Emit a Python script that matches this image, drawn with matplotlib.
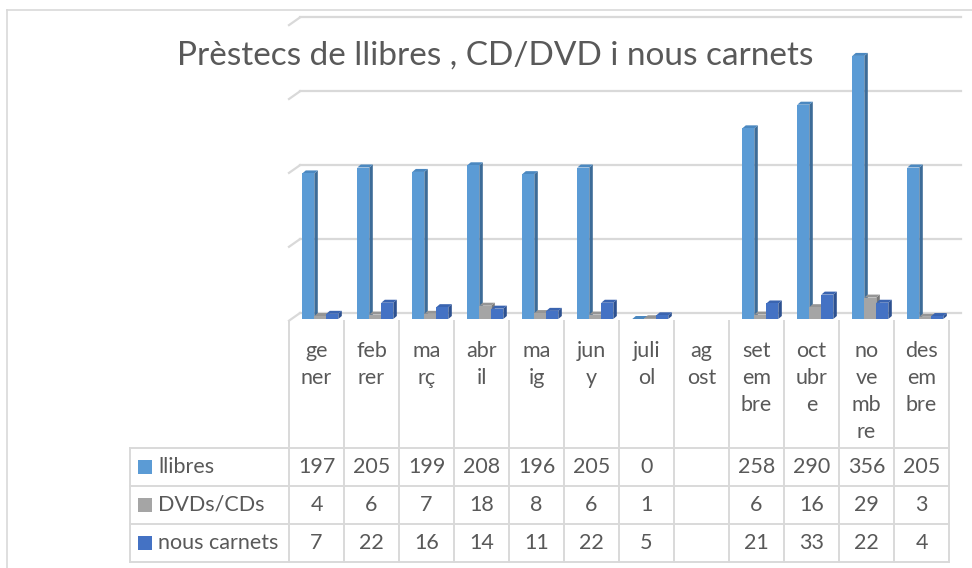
import matplotlib.pyplot as plt
from matplotlib.patches import Polygon, Rectangle
from matplotlib.lines import Line2D

plt.rcParams['font.family'] = ['Lato', 'DejaVu Sans']

# data
title = "Prèstecs de llibres , CD/DVD i nous carnets"
month_lines = [["ge", "ner"], ["feb", "rer"], ["ma", "rç"], ["abr", "il"],
               ["ma", "ig"], ["jun", "y"], ["juli", "ol"], ["ag", "ost"],
               ["set", "em", "bre"], ["oct", "ubr", "e"], ["no", "ve", "mb", "re"],
               ["des", "em", "bre"]]
series = ["llibres", "DVDs/CDs", "nous carnets"]
llibres = [197, 205, 199, 208, 196, 205, 0, None, 258, 290, 356, 205]
dvds = [4, 6, 7, 18, 8, 6, 1, None, 6, 16, 29, 3]
carnets = [7, 22, 16, 14, 11, 22, 5, None, 21, 33, 22, 4]
grid_vals = [0, 100, 200, 300, 400]

colors = ["#5B9BD5", "#A5A5A5", "#4472C4"]
side_colors = ["#3D6C98", "#787878", "#2D5190"]
top_colors = ["#4B88C0", "#959595", "#3A64B0"]
grid_col = "#D9D9D9"
text_col = "#595959"

W, H = 972, 568
def fx(px): return px / W
def fy(py): return 1 - py / H

fig = plt.figure(figsize=(W / 100, H / 100), dpi=100)

# outer chart border
fig.add_artist(Line2D([fx(7), fx(7)], [fy(10), fy(568)], color=grid_col, lw=1.2))
fig.add_artist(Line2D([fx(7), fx(972)], [fy(10), fy(10)], color=grid_col, lw=1.2))

# plot area (pixel scale: 55 px per month, 0.739 px per unit)
col0, col1 = 289, 949
base = 319
ppu = 0.739
ax = fig.add_axes([fx(col0), fy(base), fx(col1) - fx(col0), fy(10) - fy(base)])
ax.set_xlim(-0.5, 11.5)
ax.set_ylim(0, (base - 10) / ppu)
ax.axis('off')

back = 6 / ppu          # depth of back wall in data units
stub = 11 / 55          # horizontal depth of side wall
for v in grid_vals:
    yb = v + back
    ax.add_line(Line2D([-0.5 + stub, 11.5 + 12 / 55], [yb, yb], color=grid_col, lw=1.6, clip_on=False))
    ax.add_line(Line2D([-0.5, -0.5 + stub], [yb - 7.7 / ppu, yb], color=grid_col, lw=1.6, clip_on=False))

# 3D-looking bars
w = 12 / 55
dx = 3.5 / 55
dy = 3 / ppu
for k, vals in enumerate([llibres, dvds, carnets]):
    for i, v in enumerate(vals):
        if v is None:
            continue
        x0 = i - 0.258 + k * w
        x1 = x0 + w
        ax.add_patch(Polygon([(x1, 0), (x1 + dx, dy), (x1 + dx, v + dy), (x1, v)],
                             closed=True, fc=side_colors[k], ec='none', zorder=3 + k))
        ax.add_patch(Polygon([(x0, v), (x0 + dx, v + dy), (x1 + dx, v + dy), (x1, v)],
                             closed=True, fc=top_colors[k], ec='none', zorder=3 + k))
        ax.bar(x0, v, width=w, align='edge', color=colors[k], zorder=3 + k)

# title
fig.text(fx(495), fy(56), title, ha='center', va='center', fontsize=24, color=text_col)

# data table
cw = (col1 - col0) / 12
row_y = [447.7, 485.7, 524, 562]
tab_left = 130
fs = 15.5
for y in row_y:
    fig.add_artist(Line2D([fx(tab_left), fx(col1)], [fy(y), fy(y)], color=grid_col, lw=1.4))
fig.add_artist(Line2D([fx(tab_left), fx(tab_left)], [fy(row_y[0]), fy(row_y[-1])], color=grid_col, lw=1.4))
for j in range(13):
    xl = col0 + j * cw
    fig.add_artist(Line2D([fx(xl), fx(xl)], [fy(320.7), fy(row_y[-1])], color=grid_col, lw=1.4))

for j, lines in enumerate(month_lines):
    xc = col0 + (j + 0.5) * cw
    for n, s in enumerate(lines):
        fig.text(fx(xc), fy(351 + 27 * n), s, ha='center', va='center', fontsize=fs, color=text_col)

for r, (name, vals) in enumerate(zip(series, [llibres, dvds, carnets])):
    yc = (row_y[r] + row_y[r + 1]) / 2
    fig.add_artist(Rectangle((fx(138), fy(yc + 7)), 14 / W, 14 / H, fc=colors[r], ec='none'))
    fig.text(fx(158), fy(yc), name, ha='left', va='center', fontsize=fs, color=text_col)
    for j, v in enumerate(vals):
        if v is None:
            continue
        fig.text(fx(col0 + (j + 0.5) * cw), fy(yc), str(v), ha='center', va='center',
                 fontsize=fs, color=text_col)

plt.savefig("out.png", dpi=100)
